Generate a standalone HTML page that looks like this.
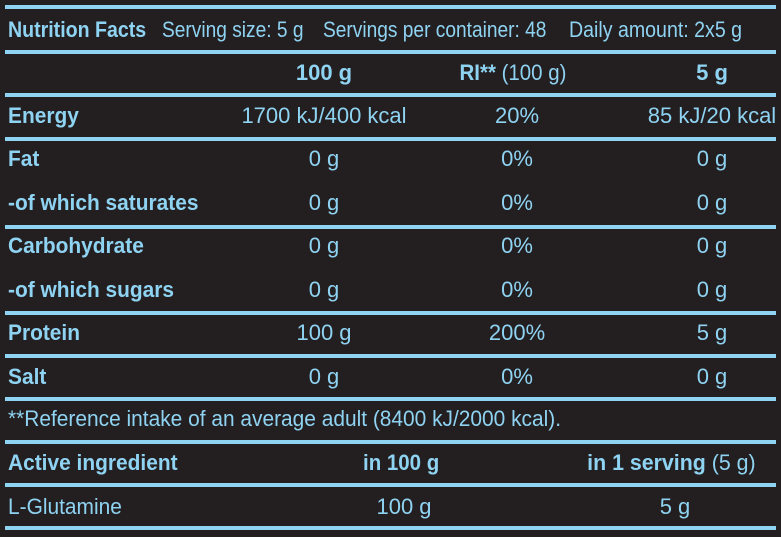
<!DOCTYPE html>
<html><head><style>
body{margin:0;width:781px;height:537px;background:#231f20;overflow:hidden;position:relative;font-family:"Liberation Sans Narrow","Liberation Sans",sans-serif;color:#8fd3f2;font-size:22px}
.l{position:absolute;left:5px;width:771px;height:4px;background:#8fd3f2}
.t{position:absolute;line-height:26px;white-space:nowrap;transform:translateY(-13px) scaleX(.95);transform-origin:left center}
.b{font-weight:bold}
.c{transform:translate(-50%,-13px);transform-origin:center}
.cs{transform:translate(-50%,-13px) scaleX(.93)}
.n{transform:translateY(-13px) scaleX(.87)}
</style></head><body>
<div class="l" style="top:5px"></div>
<div class="l" style="top:50px"></div>
<div class="l" style="top:93px"></div>
<div class="l" style="top:137px"></div>
<div class="l" style="top:225px"></div>
<div class="l" style="top:311px"></div>
<div class="l" style="top:354px"></div>
<div class="l" style="top:397px"></div>
<div class="l" style="top:440px"></div>
<div class="l" style="top:483px"></div>
<div class="l" style="top:526px"></div>

<div class="t b" style="left:8px;top:30px;transform:translateY(-13px) scaleX(.89)">Nutrition Facts</div>
<div class="t n" style="left:162px;top:30px">Serving size: 5 g</div>
<div class="t n" style="left:323px;top:30px">Servings per container: 48</div>
<div class="t n" style="left:569px;top:30px;transform:translateY(-13px) scaleX(.89)">Daily amount: 2x5 g</div>

<div class="t c b" style="left:324px;top:73px">100 g</div>
<div class="t cs" style="left:517px;top:73px"><b>RI**</b> (100 g)</div>
<div class="t c b" style="left:712px;top:73px">5 g</div>

<div class="t b" style="left:8px;top:116px">Energy</div>
<div class="t c" style="left:324px;top:116px">1700 kJ/400 kcal</div>
<div class="t c" style="left:517px;top:116px">20%</div>
<div class="t c" style="left:712px;top:116px">85 kJ/20 kcal</div>

<div class="t b" style="left:8px;top:159px">Fat</div>
<div class="t c" style="left:324px;top:159px">0 g</div>
<div class="t c" style="left:517px;top:159px">0%</div>
<div class="t c" style="left:712px;top:159px">0 g</div>

<div class="t b" style="left:8px;top:203px">-of which saturates</div>
<div class="t c" style="left:324px;top:203px">0 g</div>
<div class="t c" style="left:517px;top:203px">0%</div>
<div class="t c" style="left:712px;top:203px">0 g</div>

<div class="t b" style="left:8px;top:246px">Carbohydrate</div>
<div class="t c" style="left:324px;top:246px">0 g</div>
<div class="t c" style="left:517px;top:246px">0%</div>
<div class="t c" style="left:712px;top:246px">0 g</div>

<div class="t b" style="left:8px;top:290px">-of which sugars</div>
<div class="t c" style="left:324px;top:290px">0 g</div>
<div class="t c" style="left:517px;top:290px">0%</div>
<div class="t c" style="left:712px;top:290px">0 g</div>

<div class="t b" style="left:8px;top:333px">Protein</div>
<div class="t c" style="left:324px;top:333px">100 g</div>
<div class="t c" style="left:517px;top:333px">200%</div>
<div class="t c" style="left:712px;top:333px">5 g</div>

<div class="t b" style="left:8px;top:377px">Salt</div>
<div class="t c" style="left:324px;top:377px">0 g</div>
<div class="t c" style="left:517px;top:377px">0%</div>
<div class="t c" style="left:712px;top:377px">0 g</div>

<div class="t" style="left:8px;top:419px">**Reference intake of an average adult (8400 kJ/2000 kcal).</div>

<div class="t b" style="left:8px;top:463px">Active ingredient</div>
<div class="t cs b" style="left:404px;top:463px">in 100 g</div>
<div class="t cs" style="left:674px;top:463px;transform:translate(-50%,-13px) scaleX(.97)"><b>in 1 serving</b> (5 g)</div>

<div class="t" style="left:8px;top:507px">L-Glutamine</div>
<div class="t c" style="left:404px;top:507px">100 g</div>
<div class="t c" style="left:675px;top:507px">5 g</div>
</body></html>
